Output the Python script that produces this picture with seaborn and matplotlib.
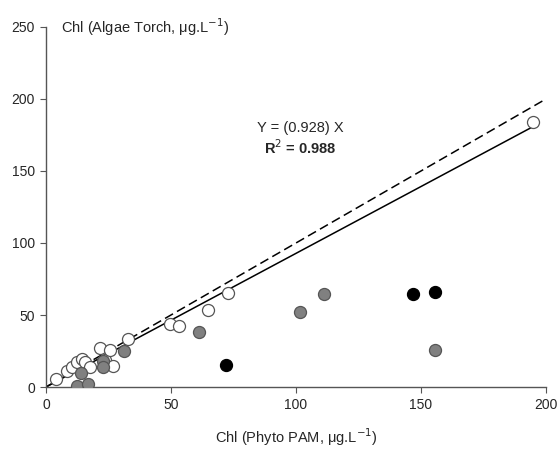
import numpy as np
import pandas as pd
import matplotlib
matplotlib.use("Agg")
import matplotlib.pyplot as plt
import seaborn as sns

# open circles
open_x = [4, 8.4, 10.4, 12.4, 14.4, 15.6, 17.6, 21.6, 23.6, 25.6, 26.8, 32.8, 49.6, 53.2, 64.8, 72.8, 195]
open_y = [5.5, 11, 13.9, 17.4, 19.4, 17.4, 13.9, 27, 18.7, 25.7, 14.6, 33.3, 43.7, 42.4, 53.5, 65.3, 184]
# grey circles
grey_x = [12.4, 16.8, 14.0, 22.8, 22.8, 31.2, 61.2, 101.6, 111.2, 155.6]
grey_y = [0.7, 2.0, 9.7, 18.0, 13.9, 25.0, 38.2, 52.1, 64.6, 25.7]
# black circles
black_x = [72, 146.8, 155.6]
black_y = [15.3, 64.6, 66]

slope = 0.928
r2 = 0.988
fit_x = [0, 195]
one_x = [0, 200]

sns.set_style("ticks")
plt.rcParams['font.family'] = ['Liberation Sans', 'DejaVu Sans']

fig = plt.figure(figsize=(5.6, 4.49), dpi=100)
ax = fig.add_axes([0.082, 0.138, 0.893, 0.802])

sns.lineplot(x=one_x, y=one_x, ax=ax, color='black', lw=1.1, linestyle=(0, (6, 3)))
sns.lineplot(x=fit_x, y=[slope * v for v in fit_x], ax=ax, color='black', lw=1.1)

pts = pd.DataFrame({
    'x': open_x + grey_x + black_x,
    'y': open_y + grey_y + black_y,
    'grp': ['open'] * len(open_x) + ['grey'] * len(grey_x) + ['black'] * len(black_x),
})
face = {'open': 'white', 'grey': '#808080', 'black': 'black'}
edge = {'open': '#555555', 'grey': '#555555', 'black': 'black'}
for g in ['open', 'grey', 'black']:
    d = pts[pts.grp == g]
    sns.scatterplot(data=d, x='x', y='y', ax=ax, color=face[g], edgecolor=edge[g],
                    linewidth=0.9, s=75, zorder=3, legend=False)

ax.set_xlim(0, 200)
ax.set_ylim(0, 250)
ax.set_xticks([0, 50, 100, 150, 200])
ax.set_yticks([0, 50, 100, 150, 200, 250])
ax.set_xlabel('Chl (Phyto PAM, μg.L$^{-1}$)', fontsize=10.5, labelpad=10)
ax.set_ylabel('')
ax.text(0.03, 1.0, 'Chl (Algae Torch, μg.L$^{-1}$)', transform=ax.transAxes,
        fontsize=10.5, ha='left', va='center')
ax.text(101.6, 180, 'Y = (0.928) X', fontsize=10.5, ha='center', va='center')
ax.text(101.6, 166, f'R$^2$ = {r2}', fontsize=10.5, ha='center', va='center', fontweight='bold')

ax.tick_params(labelsize=10, length=4, color='#555555', pad=4)
for s in ['left', 'bottom']:
    ax.spines[s].set_color('#555555')
    ax.spines[s].set_linewidth(1)
sns.despine(ax=ax)

fig.savefig('out.png', dpi=100)
